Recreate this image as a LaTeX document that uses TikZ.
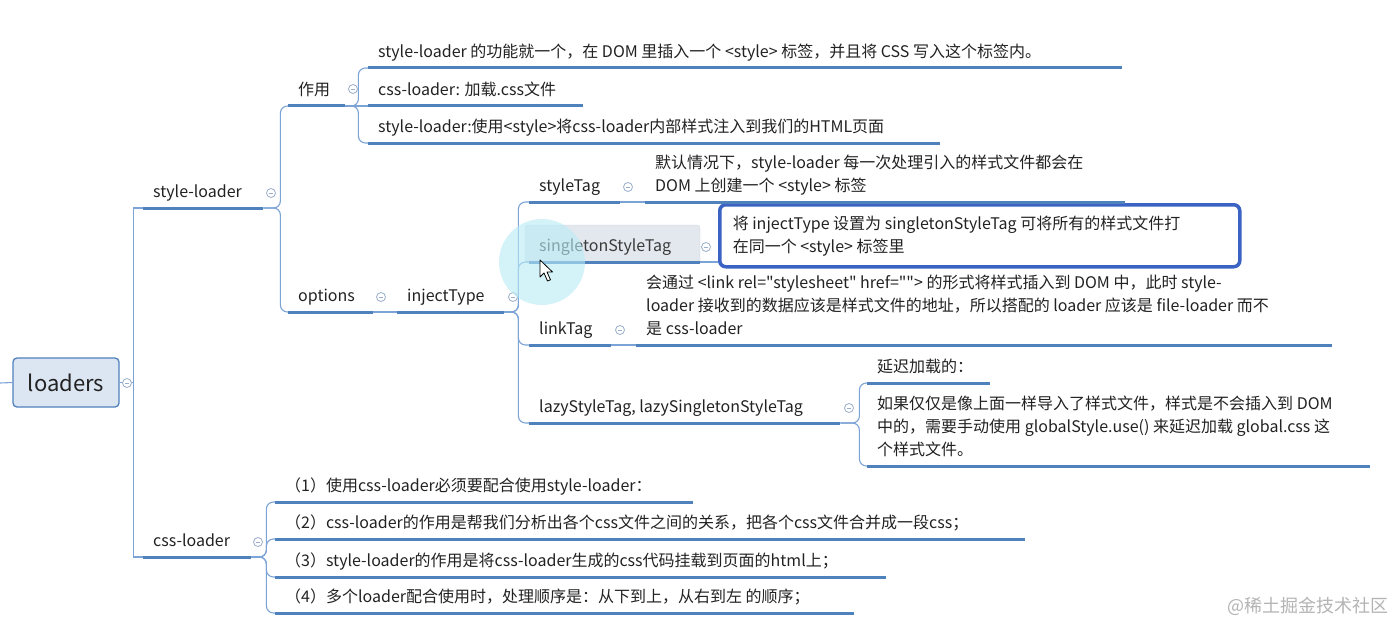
\documentclass[tikz,border=0pt]{standalone}
\usepackage{fontspec}
\setmainfont{Noto Sans CJK SC}[Ligatures=TeXOff]
\usetikzlibrary{calc}
\definecolor{ul}{HTML}{4F81BD}
\definecolor{cn}{HTML}{7BA3D6}
\definecolor{tx}{HTML}{222222}
\definecolor{fd}{HTML}{9AAECB}
\definecolor{bx}{HTML}{3B63C4}
\definecolor{rootfill}{HTML}{DCE6F2}
\definecolor{hlfill}{HTML}{E3E8EE}
\definecolor{hldraw}{HTML}{D0D7E0}
\definecolor{sstext}{HTML}{3A3A3A}
\definecolor{glow}{HTML}{B8ECF6}
\definecolor{wmark}{HTML}{B4B4B4}
\newcommand{\mmt}[2]{\parbox[b]{#1}{\raggedright #2}}
\tikzset{
  topic/.style={anchor=south west, inner xsep=10pt, inner ysep=0pt, text depth=10pt,
    font=\fontsize{16pt}{23pt}\selectfont, text=tx},
  uline/.style={draw=ul, line width=3pt},
  conn/.style={draw=cn, line width=1.1pt, rounded corners=7pt},
  fold/.style={circle, draw=fd, line width=0.8pt, minimum size=9pt, inner sep=0pt,
    path picture={\draw[fd, line width=0.8pt] ([xshift=-2.3pt]path picture bounding box.center) -- ([xshift=2.3pt]path picture bounding box.center);}},
}
\begin{document}
\begin{tikzpicture}[x=1pt,y=-1pt]
\fill[white] (0,0) rectangle (1396,623);
\useasboundingbox (0,0) rectangle (1396,623);

% root
\node[draw=ul, fill=rootfill, line width=1.3pt, rounded corners=4pt, minimum width=106pt,
  minimum height=49pt, inner sep=0pt, text=tx, font=\fontsize{22pt}{22pt}\selectfont] (root) at (66,382.5) {loaders};
\coordinate (lft) at (0,383);

% level 1
\node[topic] (sl) at (143,208) {\mmt{100pt}{style-loader}};
\node[topic] (cl) at (143,557) {\mmt{88pt}{css-loader}};

% style-loader children
\node[topic] (zy) at (288,106) {\mmt{37pt}{作用}};
\node[topic] (op) at (288,312) {\mmt{65pt}{options}};
\node[topic] (it) at (397,312) {\mmt{87pt}{injectType}};

\node[topic] (z1) at (368,68) {\mmt{734pt}{\mbox{style-loader 的功能就一个，在 DOM 里插入一个 <style> 标签，并且将 CSS 写入这个标签内。}}};
\node[topic] (z2) at (368,106) {\mmt{195pt}{\mbox{css-loader: 加载.css文件}}};
\node[topic] (z3) at (368,143) {\mmt{552pt}{\mbox{style-loader:使用<style>将css-loader内部样式注入到我们的HTML页面}}};

% injectType children
\node[topic] (st) at (529,202) {\mmt{71pt}{styleTag}};
\fill[fill=hlfill, draw=hldraw, rounded corners=3pt] (525,225) rectangle (700,263);
\node[topic, text=sstext] (ss) at (529,262) {\mmt{151pt}{singletonStyleTag}};
\node[topic] (lt) at (529,345) {\mmt{62pt}{linkTag}};
\node[topic] (lz) at (529,423) {\mmt{291pt}{\mbox{lazyStyleTag, lazySingletonStyleTag}}};

\node[topic] (st1) at (645,202) {\mmt{460pt}{\mbox{默认情况下，style-loader 每一次处理引入的样式文件都会在}\\\mbox{DOM 上创建一个 <style> 标签}}};
\node[draw=bx, line width=3.5pt, rounded corners=6pt, fill=white, anchor=north west,
  minimum width=520pt, minimum height=62pt, inner xsep=13pt, inner ysep=0pt,
  font=\fontsize{16pt}{23pt}\selectfont, text=tx] (ss1) at (718,203)
  {\parbox{494pt}{\raggedright\mbox{将 injectType 设置为 singletonStyleTag 可将所有的样式文件打}\\\mbox{在同一个 <style> 标签里}}};
\node[topic] (lt1) at (636,345) {\mmt{676pt}{\mbox{会通过 <link rel="stylesheet" href=""> 的形式将样式插入到 DOM 中，此时 style-}\\\mbox{loader 接收到的数据应该是样式文件的地址，所以搭配的 loader 应该是 file-loader 而不}\\\mbox{是 css-loader}}};
\node[topic] (lz1) at (867,383) {\mmt{103pt}{\mbox{延迟加载的：}}};
\node[topic] (lz2) at (867,466) {\mmt{483pt}{\mbox{如果仅仅是像上面一样导入了样式文件，样式是不会插入到 DOM}\\\mbox{中的，需要手动使用 globalStyle.use() 来延迟加载 global.css 这}\\\mbox{个样式文件。}}};

% css-loader children
\node[topic] (c1) at (275,502) {\mmt{398pt}{\mbox{（1）使用css-loader必须要配合使用style-loader：}}};
\node[topic] (c2) at (275,539) {\mmt{730pt}{\mbox{（2）css-loader的作用是帮我们分析出各个css文件之间的关系，把各个css文件合并成一段css；}}};
\node[topic] (c3) at (275,577) {\mmt{591pt}{\mbox{（3）style-loader的作用是将css-loader生成的css代码挂载到页面的html上；}}};
\node[topic] (c4) at (275,613) {\mmt{559pt}{\mbox{（4）多个loader配合使用时，处理顺序是：从下到上，从右到左 的顺序；}}};

% underlines
\foreach \n in {sl,cl,zy,op,it,z1,z2,z3,st,ss,lt,lz,st1,lt1,lz1,lz2,c1,c2,c3,c4}
  \draw[uline] (\n.south west) -- (\n.south east);

% connectors
\draw[conn, rounded corners=0pt] (lft) -- (root.west);
\draw[conn, rounded corners=0pt] (root.east) -- ++(14,0) |- (sl.south west);
\draw[conn, rounded corners=0pt] (root.east) -- ++(14,0) |- (cl.south west);
\draw[conn] (sl.south east) -- ++(17,0) |- (zy.south west);
\draw[conn] (sl.south east) -- ++(17,0) |- (op.south west);
\draw[conn] (op.south east) -- (it.south west);
\draw[conn] (zy.south east) -- ++(13,0) |- (z1.south west);
\draw[conn] (zy.south east) -- (z2.south west);
\draw[conn] (zy.south east) -- ++(13,0) |- (z3.south west);
\foreach \n in {st,ss,lt,lz}
  \draw[conn] (it.south east) -- ++(14,0) |- (\n.south west);
\draw[conn] (st.south east) -- (st1.south west);
\draw[conn] (ss.south east) -- (ss1.west |- ss.south east);
\draw[conn] (lt.south east) -- (lt1.south west);
\draw[conn] (lz.south east) -- ++(19,0) |- (lz1.south west);
\draw[conn] (lz.south east) -- ++(19,0) |- (lz2.south west);
\foreach \n in {c1,c2,c3,c4}
  \draw[conn] (cl.south east) -- ++(15,0) |- (\n.south west);

% fold buttons
\node[fold, fill=white] (f-root) at (127,383) {};
\node[fold] (f-sl) at (271,193) {};
\node[fold] (f-cl) at (258,542) {};
\node[fold] (f-zy) at (353,89) {};
\node[fold] (f-op) at (381,297) {};
\node[fold] (f-it) at (513,297) {};
\node[fold] (f-st) at (628,187) {};
\node[fold] (f-ss) at (706,247) {};
\node[fold] (f-lt) at (620,330) {};
\node[fold] (f-lz) at (849,408) {};

% cursor highlight and pointer
\fill[glow, opacity=0.6] (542,262) circle (43);
\draw[black, fill=white, line width=0.8pt, line join=round]
  (540,260) -- (540,277) -- (544,273) -- (547.5,281) -- (550.5,279.8) -- (547,272) -- (552.5,272) -- cycle;

% watermark
\node[anchor=east, text=wmark, font=\fontsize{18pt}{18pt}\selectfont] (wm) at (1392,606) {@稀土掘金技术社区};
\end{tikzpicture}
\end{document}
